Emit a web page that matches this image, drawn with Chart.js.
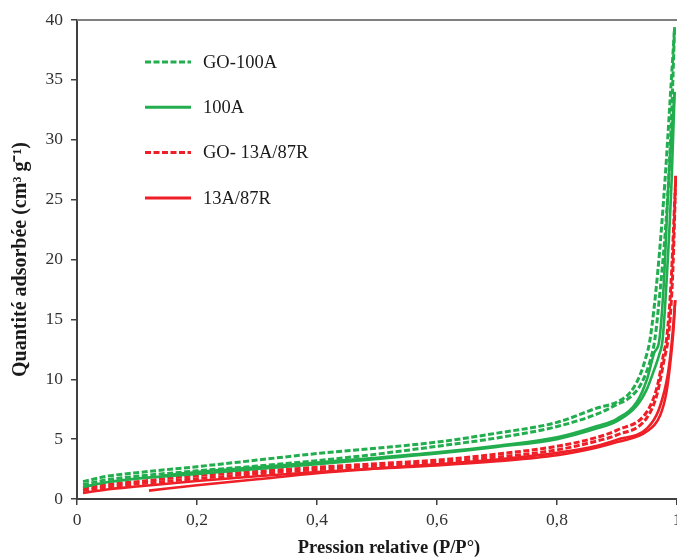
<!DOCTYPE html>
<html>
<head>
<meta charset="utf-8">
<script src="https://cdn.jsdelivr.net/npm/chart.js@4/dist/chart.umd.min.js"></script>
<style>
  html, body { margin: 0; padding: 0; overflow: hidden; background: #fff; }
  #wrap { width: 705px; height: 557px; }
</style>
</head>
<body>
<div id="wrap"><canvas id="isothermChart"></canvas></div>
<script>
// Isothermes d'adsorption (branches adsorption / désorption)
const legendLabels = ["GO-100A", "100A", "GO- 13A/87R", "13A/87R"];
const yTicks = [0, 5, 10, 15, 20, 25, 30, 35, 40];
const xTicks = [0, 0.2, 0.4, 0.6, 0.8, 1];

// GO-100A
const go100A_adsP = [0.01, 0.05, 0.1, 0.2, 0.3, 0.4, 0.5, 0.6, 0.7, 0.8, 0.867, 0.9, 0.922, 0.94, 0.955, 0.963, 0.972, 0.98, 0.986, 0.991, 0.996];
const go100A_adsV = [1.2, 1.6, 1.9, 2.35, 2.75, 3.2, 3.75, 4.4, 5.1, 6.05, 7.1, 7.9, 8.5, 9.6, 11.5, 13.3, 17.5, 22, 26.6, 32, 39.4];
const go100A_desP = [0.01, 0.05, 0.1, 0.2, 0.3, 0.4, 0.5, 0.6, 0.7, 0.8, 0.867, 0.9, 0.922, 0.938, 0.948, 0.955, 0.968, 0.98, 0.989, 0.996];
const go100A_desV = [1.45, 1.9, 2.2, 2.7, 3.25, 3.8, 4.25, 4.75, 5.5, 6.4, 7.6, 8.1, 8.9, 10.3, 11.8, 13.3, 19, 26.6, 33.7, 39.4];

// 100A
const a100_adsP = [0.01, 0.05, 0.1, 0.2, 0.3, 0.4, 0.5, 0.6, 0.7, 0.8, 0.867, 0.9, 0.933, 0.95, 0.962, 0.97, 0.976, 0.983, 0.991, 0.996];
const a100_adsV = [1.0, 1.4, 1.7, 2.1, 2.5, 2.9, 3.35, 3.8, 4.35, 5.0, 5.9, 6.5, 7.8, 9.2, 10.8, 12.0, 13.3, 18.5, 26.6, 34];
const a100_desP = [0.14, 0.2, 0.3, 0.4, 0.5, 0.6, 0.7, 0.8, 0.867, 0.9, 0.933, 0.95, 0.962, 0.9706, 0.978, 0.986, 0.996];
const a100_desV = [1.95, 2.25, 2.65, 3.05, 3.45, 3.9, 4.45, 5.15, 6.1, 6.7, 8.1, 10.0, 12.2, 13.3, 18, 26.6, 34];

// GO- 13A/87R
const go13_adsP = [0.01, 0.05, 0.1, 0.2, 0.3, 0.4, 0.5, 0.6, 0.7, 0.8, 0.867, 0.9, 0.95, 0.967, 0.978, 0.987, 0.993, 0.998];
const go13_adsV = [0.7, 1.0, 1.25, 1.7, 2.1, 2.45, 2.75, 3.05, 3.5, 4.1, 4.85, 5.35, 6.8, 8.8, 11.5, 14.2, 19, 27];
const go13_desP = [0.01, 0.05, 0.1, 0.2, 0.3, 0.4, 0.5, 0.6, 0.7, 0.8, 0.867, 0.9, 0.95, 0.967, 0.978, 0.983, 0.99, 0.998];
const go13_desV = [0.9, 1.2, 1.45, 1.95, 2.3, 2.65, 2.95, 3.25, 3.75, 4.4, 5.15, 5.75, 7.3, 9.4, 12.2, 13.5, 18, 27];

// 13A/87R
const r13_adsP = [0.01, 0.05, 0.1, 0.2, 0.3, 0.4, 0.5, 0.6, 0.7, 0.8, 0.867, 0.9, 0.95, 0.972, 0.982, 0.988, 0.994, 0.997];
const r13_adsV = [0.5, 0.8, 1.05, 1.5, 1.9, 2.25, 2.55, 2.8, 3.15, 3.65, 4.3, 4.75, 5.65, 7.0, 8.8, 11.0, 14.1, 16.6];
const r13_desP = [0.12, 0.2, 0.3, 0.4, 0.5, 0.6, 0.7, 0.8, 0.867, 0.9, 0.95, 0.97, 0.985, 0.993, 0.997];
const r13_desV = [0.7, 1.15, 1.65, 2.15, 2.55, 2.9, 3.3, 3.85, 4.45, 4.95, 5.9, 7.5, 10.5, 14.0, 16.6];

const GREEN = "#22ad4e";
const RED = "#ee1f26";
const DASH = [6, 2.5];
const SERIF = "'Liberation Serif', 'Times New Roman', serif";

function pts(px, vy) {
  return px.map((p, i) => ({ x: p, y: vy[i] }));
}

function branch(label, px, vy, color, dashed) {
  return {
    label: label,
    data: pts(px, vy),
    borderColor: color,
    borderWidth: dashed ? 3 : 2.6,
    borderDash: dashed ? DASH : [],
    pointRadius: 0,
    fill: false,
    cubicInterpolationMode: "monotone",
  };
}

const datasets = [
  branch(legendLabels[0], go100A_adsP, go100A_adsV, GREEN, true),
  branch(legendLabels[0], go100A_desP, go100A_desV, GREEN, true),
  branch(legendLabels[1], a100_adsP, a100_adsV, GREEN, false),
  branch(legendLabels[1], a100_desP, a100_desV, GREEN, false),
  branch(legendLabels[2], go13_adsP, go13_adsV, RED, true),
  branch(legendLabels[2], go13_desP, go13_desV, RED, true),
  branch(legendLabels[3], r13_adsP, r13_adsV, RED, false),
  branch(legendLabels[3], r13_desP, r13_desV, RED, false),
];

const legendStyle = [
  { color: GREEN, dashed: true },
  { color: GREEN, dashed: false },
  { color: RED, dashed: true },
  { color: RED, dashed: false },
];

// Légende dessinée dans la zone du graphique + bordure du haut
const customLegend = {
  id: "customLegend",
  afterDraw(chart) {
    const ctx = chart.ctx;
    const area = chart.chartArea;
    ctx.save();
    ctx.strokeStyle = "#808080";
    ctx.lineWidth = 2;
    ctx.beginPath();
    ctx.moveTo(area.left, area.top);
    ctx.lineTo(area.right, area.top);
    ctx.stroke();

    const x0 = area.left + 68;
    const y0 = area.top + 42;
    legendLabels.forEach((lab, i) => {
      const y = y0 + i * 45.3;
      ctx.strokeStyle = legendStyle[i].color;
      ctx.lineWidth = 3;
      ctx.setLineDash(legendStyle[i].dashed ? DASH : []);
      ctx.beginPath();
      ctx.moveTo(x0, y);
      ctx.lineTo(x0 + 46, y);
      ctx.stroke();
      ctx.setLineDash([]);
      ctx.fillStyle = "#1a1a1a";
      ctx.font = "18.5px " + SERIF;
      ctx.textBaseline = "middle";
      ctx.fillText(lab, x0 + 58, y + 1);
    });
    ctx.restore();
  },
};

const ctx = document.getElementById("isothermChart").getContext("2d");
new Chart(ctx, {
  type: "line",
  data: { datasets: datasets },
  options: {
    responsive: true,
    maintainAspectRatio: false,
    animation: false,
    layout: { padding: { top: 20, right: 4, left: 0, bottom: 0 } },
    plugins: { legend: { display: false }, tooltip: { enabled: false } },
    scales: {
      x: {
        type: "linear",
        min: 0,
        max: 1.04,
        afterBuildTicks: (s) => {
          s.ticks = xTicks.map((v) => ({ value: v }));
        },
        afterFit: (s) => { s.height = 58; },
        grid: { drawOnChartArea: false, tickLength: 6, tickColor: "#404040", lineWidth: 1.5 },
        border: { color: "#404040", width: 2 },
        ticks: {
          color: "#333",
          font: { family: SERIF, size: 17.5 },
          padding: 5,
          maxRotation: 0,
          callback: (v) => String(v).replace(".", ","),
        },
        title: {
          display: true,
          text: "Pression relative (P/P°)",
          color: "#1a1a1a",
          font: { family: SERIF, size: 18.5, weight: "bold" },
          padding: { top: 0, bottom: -2 },
        },
      },
      y: {
        min: 0,
        max: 40,
        afterBuildTicks: (s) => {
          s.ticks = yTicks.map((v) => ({ value: v }));
        },
        afterFit: (s) => { s.width = 77; },
        grid: { drawOnChartArea: false, tickLength: 6, tickColor: "#404040", lineWidth: 1.5 },
        border: { color: "#404040", width: 2 },
        ticks: {
          color: "#333",
          font: { family: SERIF, size: 17.5 },
          padding: 8,
        },
        title: {
          display: true,
          text: "Quantité adsorbée (cm³ g⁻¹)",
          color: "#1a1a1a",
          font: { family: SERIF, size: 20, weight: "bold" },
          padding: { top: 9, bottom: 0 },
        },
      },
    },
  },
  plugins: [customLegend],
});
</script>
</body>
</html>
